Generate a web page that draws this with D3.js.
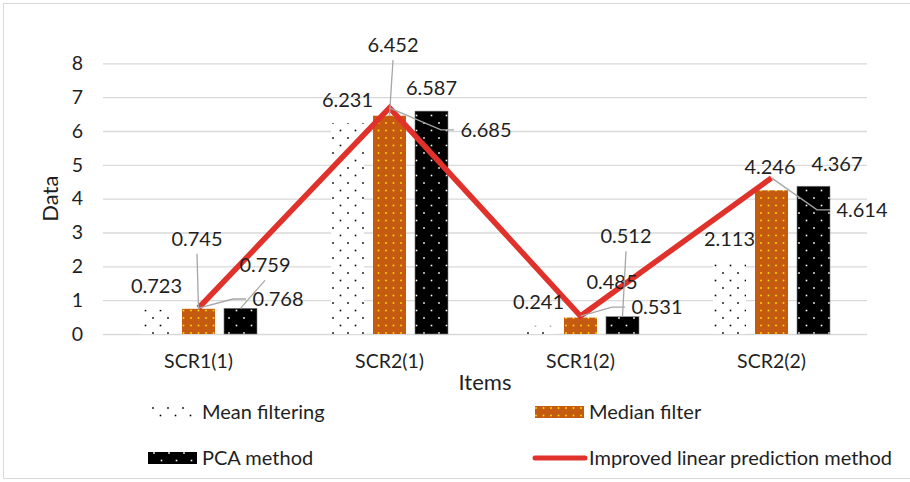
<!DOCTYPE html>
<html>
<head>
<meta charset="utf-8">
<script src="https://cdn.jsdelivr.net/npm/d3@7"></script>
<style>
  html, body { margin: 0; padding: 0; background: #fff; }
  svg { display: block; font-family: Lato, "Open Sans", sans-serif; }
</style>
</head>
<body>
<svg id="chart" width="910" height="482"></svg>
<script>
// ---- data ----
const categories = ["SCR1(1)", "SCR2(1)", "SCR1(2)", "SCR2(2)"];
const seriesNames = ["Mean filtering", "Median filter", "PCA method"];
const meanFiltering = [0.723, 6.231, 0.241, 2.113];
const medianFilter = [0.745, 6.452, 0.485, 4.246];
const pcaMethod = [0.759, 6.587, 0.512, 4.367];
const improvedLinear = [0.768, 6.685, 0.531, 4.614];
const lineName = "Improved linear prediction method";
const yTicks = [0, 1, 2, 3, 4, 5, 6, 7, 8];
const xTitle = "Items";
const yTitle = "Data";

// label placement: offset of the label centre from the mark's anchor, and whether a leader is drawn
const barLabelLayout = [
  [[0, -23.5, false], [0, -23.5, false], [0, -23.5, false], [0, -23.5, false]],
  [[-1.5, -70, true], [3.5, -70.7, true], [31.5, -35.6, false], [-1.5, -23.5, false]],
  [[24.5, -43, true], [0, -23, false], [3.5, -80.5, true], [23.5, -22, false]]
];
const lineLabelLayout = [[79.5, -9], [96.5, 22], [76.5, -9], [90.5, 32]];

// ---- layout ----
const svg = d3.select("#chart");
const plot = { left: 103, right: 867, top: 63.3, bottom: 334 };
const colors = { median: "#c55a11", line: "#e0312a", grid: "#d9d9d9", text: "#1f1f1f", leader: "#a6a6a6" };
const labelSize = "20px";

// frame
svg.append("rect")
  .attr("x", 3.5).attr("y", 3.5).attr("width", 920).attr("height", 475)
  .attr("fill", "#fff").attr("stroke", "#d9d9d9").attr("stroke-width", 1);

// dotted fills
const defs = svg.append("defs");
function dotPattern(id, bg, dot, w, h, pts, r) {
  const p = defs.append("pattern").attr("id", id)
    .attr("patternUnits", "userSpaceOnUse").attr("width", w).attr("height", h);
  p.append("rect").attr("width", w).attr("height", h).attr("fill", bg);
  pts.forEach(([cx, cy]) => p.append("rect")
    .attr("x", cx - r).attr("y", cy - r).attr("width", 2 * r).attr("height", 2 * r).attr("fill", dot));
}
dotPattern("pMean", "#ffffff", "#000000", 15, 15, [[3, 3], [10.5, 10.5]], 0.8);
dotPattern("pMedian", colors.median, "#ffe600", 15, 15, [[3.5, 3], [11, 3], [3.5, 10.5], [11, 10.5]], 0.8);
dotPattern("pPca", "#000000", "#ffffff", 15, 15, [[4, 3], [11.5, 10.5]], 0.8);
const fills = ["url(#pMean)", "url(#pMedian)", "url(#pPca)"];

// scales
const x0 = d3.scaleBand().domain(categories).range([plot.left, plot.right]).paddingInner(0).paddingOuter(0);
const x1 = d3.scaleBand().domain(seriesNames).range([-58.5, 58.5]).paddingInner(0.214).paddingOuter(0);
const y = d3.scaleLinear().domain([0, 8]).range([plot.bottom, plot.top]);
const catCenter = c => x0(c) + x0.bandwidth() / 2;

// gridlines and y tick labels
const yAxis = svg.append("g")
  .attr("transform", `translate(${plot.left},0)`)
  .call(d3.axisLeft(y).tickValues(yTicks).tickFormat(d3.format("d"))
    .tickSize(-(plot.right - plot.left)).tickPadding(20));
yAxis.select(".domain").remove();
yAxis.selectAll(".tick line").attr("stroke", colors.grid).attr("stroke-width", 1.3);
yAxis.selectAll(".tick text").attr("fill", colors.text).style("font-size", "19.5px")
  .style("font-family", "Lato, sans-serif");

// x tick labels
const xAxis = svg.append("g")
  .attr("transform", `translate(0,${plot.bottom})`)
  .call(d3.axisBottom(x0).tickSize(0).tickPadding(20));
xAxis.select(".domain").remove();
xAxis.selectAll(".tick text").attr("fill", colors.text).style("font-size", "19.5px")
  .style("font-family", "Lato, sans-serif");

// axis titles
svg.append("text").attr("x", (plot.left + plot.right) / 2).attr("y", 390)
  .attr("text-anchor", "middle").attr("fill", colors.text).style("font-size", "22px").text(xTitle);
svg.append("text").attr("transform", `translate(58,${(plot.top + plot.bottom) / 2}) rotate(-90)`)
  .attr("text-anchor", "middle").attr("fill", colors.text).style("font-size", "22px").text(yTitle);

// bars
const barSeries = [meanFiltering, medianFilter, pcaMethod];
barSeries.forEach((vals, si) => {
  svg.append("g").selectAll("rect").data(vals).join("rect")
    .attr("x", (d, i) => x0(categories[i]) + x0.bandwidth() / 2 + x1(seriesNames[si]))
    .attr("y", d => y(d))
    .attr("width", x1.bandwidth())
    .attr("height", d => y(0) - y(d))
    .attr("fill", fills[si])
    .attr("stroke", si === 2 ? "#7f7f7f" : "none")
    .attr("stroke-width", si === 2 ? 0.6 : 0);
});

// improved linear prediction line (through the middle of each group)
const linePts = improvedLinear.map((v, i) => [catCenter(categories[i]), y(v)]);
svg.append("path").datum(linePts)
  .attr("d", d3.line())
  .attr("fill", "none").attr("stroke", colors.line).attr("stroke-width", 5.5)
  .attr("stroke-linejoin", "miter").attr("stroke-linecap", "butt");

// value labels on bars
const labelG = svg.append("g");
const fmt = d3.format(".3f");
barSeries.forEach((vals, si) => {
  vals.forEach((v, i) => {
    const ax = catCenter(categories[i]) + x1(seriesNames[si]) + x1.bandwidth() / 2;
    const ay = y(v);
    const [dx, dy, leader] = barLabelLayout[si][i];
    const lx = ax + dx, ly = ay + dy;
    if (leader) {
      labelG.append("line")
        .attr("x1", lx).attr("y1", ly + 15).attr("x2", ax).attr("y2", ay)
        .attr("stroke", colors.leader).attr("stroke-width", 1.3);
    }
    labelG.append("text").attr("x", lx).attr("y", ly + 7)
      .attr("text-anchor", "middle").attr("fill", colors.text).style("font-size", labelSize)
      .text(fmt(v));
  });
});

// value labels on the line, with elbow leaders
improvedLinear.forEach((v, i) => {
  const [ax, ay] = linePts[i];
  const [dx, dy] = lineLabelLayout[i];
  const lx = ax + dx, ly = ay + dy;
  const left = lx - 25;
  labelG.append("path")
    .attr("d", d3.line()([[ax, ay], [left - 20, ly], [left - 7, ly]]))
    .attr("fill", "none").attr("stroke", colors.leader).attr("stroke-width", 1.3);
  labelG.append("text").attr("x", lx).attr("y", ly + 7)
    .attr("text-anchor", "middle").attr("fill", colors.text).style("font-size", labelSize)
    .text(fmt(v));
});

// legend
const legendItems = [
  { name: seriesNames[0], fill: fills[0], x: 148, y: 412, type: "bar" },
  { name: seriesNames[1], fill: fills[1], x: 535, y: 412, type: "bar" },
  { name: seriesNames[2], fill: fills[2], x: 148, y: 458, type: "bar" },
  { name: lineName, fill: colors.line, x: 535, y: 458, type: "line" }
];
const lg = svg.append("g");
legendItems.forEach(it => {
  if (it.type === "bar") {
    lg.append("rect").attr("x", it.x).attr("y", it.y - 6).attr("width", 49).attr("height", 12)
      .attr("fill", it.fill);
  } else {
    lg.append("line").attr("x1", it.x).attr("x2", it.x + 50).attr("y1", it.y).attr("y2", it.y)
      .attr("stroke", it.fill).attr("stroke-width", 5).attr("stroke-linecap", "round");
  }
  lg.append("text").attr("x", it.x + 54).attr("y", it.y + 7)
    .attr("fill", colors.text).style("font-size", labelSize).text(it.name);
});
</script>
</body>
</html>
